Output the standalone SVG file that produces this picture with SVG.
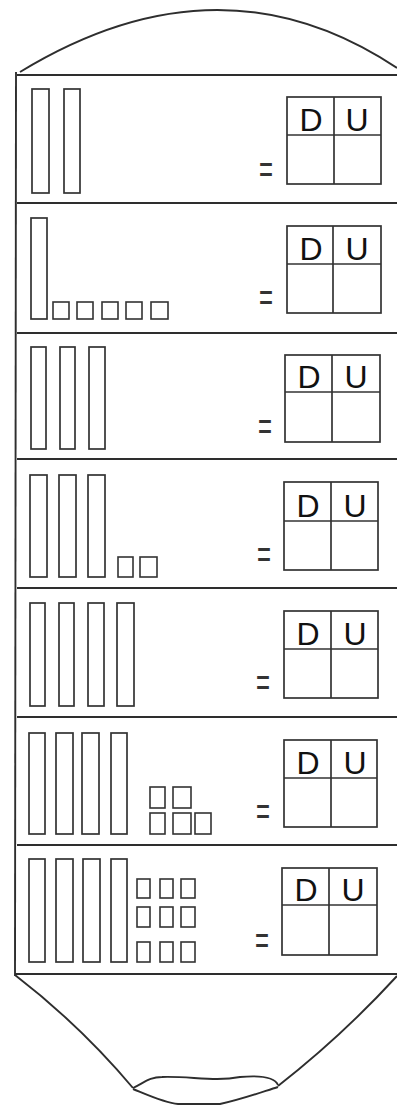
<svg xmlns="http://www.w3.org/2000/svg" width="397" height="1106" viewBox="0 0 397 1106">
<style>
.ln{fill:none;stroke:#333;stroke-width:1.7}
.fr{fill:none;stroke:#2e2e2e;stroke-width:1.9}
.rod{fill:#fff;stroke:#333;stroke-width:1.7}
.u{fill:#fff;stroke:#333;stroke-width:1.6}
.tb{fill:#fff;stroke:#333;stroke-width:1.7}
.lt{font-family:"Liberation Sans",Arial,sans-serif;font-size:32px;fill:#111;text-anchor:middle}
.eq{font-family:"Liberation Sans",Arial,sans-serif;font-size:40px;fill:#333;text-anchor:middle}
</style>
<rect width="397" height="1106" fill="#fff"/>
<g id="frame">
<path class="fr" d="M20,72 Q220,-50 397,68"/>
<line class="fr" x1="17" y1="75" x2="397" y2="75"/>
<line class="fr" x1="16" y1="72" x2="15" y2="976"/>
<line class="fr" x1="17" y1="203" x2="397" y2="203"/>
<line class="fr" x1="17" y1="333" x2="397" y2="333"/>
<line class="fr" x1="17" y1="459" x2="397" y2="459"/>
<line class="fr" x1="17" y1="588" x2="397" y2="588"/>
<line class="fr" x1="17" y1="717" x2="397" y2="717"/>
<line class="fr" x1="17" y1="845" x2="397" y2="845"/>
<line class="fr" x1="15" y1="974" x2="397" y2="974"/>
<path class="fr" d="M15,975 Q80,1025 133,1088"/>
<path class="fr" d="M397,976 Q342,1036 278,1086"/>
<path class="fr" d="M133,1088 C145,1082 150,1077 162,1077 C190,1076 215,1082 240,1077 C262,1075 275,1078 278,1085"/>
<path class="fr" d="M133,1089 C150,1096 165,1103 178,1104 L220,1104 C240,1100 262,1092 278,1087"/>
</g>
<g id="row1">
<rect class="rod" x="32" y="89" width="17" height="104"/>
<rect class="rod" x="64" y="89" width="16" height="104"/>
<text class="eq" x="266" y="183" textLength="14" lengthAdjust="spacingAndGlyphs">=</text>
<g><rect class="tb" x="287" y="97" width="94" height="87"/><line class="ln" x1="334" y1="97" x2="334" y2="184"/><line class="ln" x1="287" y1="135" x2="381" y2="135"/><text class="lt" x="311" y="131">D</text><text class="lt" x="357" y="131">U</text></g>
</g>
<g id="row2">
<rect class="rod" x="31" y="218" width="16" height="101"/>
<rect class="u" x="53" y="302" width="16" height="17"/>
<rect class="u" x="77" y="302" width="16" height="17"/>
<rect class="u" x="102" y="302" width="16" height="17"/>
<rect class="u" x="126" y="302" width="16" height="17"/>
<rect class="u" x="151" y="302" width="17" height="17"/>
<text class="eq" x="266" y="311" textLength="14" lengthAdjust="spacingAndGlyphs">=</text>
<g><rect class="tb" x="287" y="226" width="94" height="87"/><line class="ln" x1="333" y1="226" x2="333" y2="313"/><line class="ln" x1="287" y1="264" x2="381" y2="264"/><text class="lt" x="311" y="260">D</text><text class="lt" x="357" y="260">U</text></g>
</g>
<g id="row3">
<rect class="rod" x="31" y="347" width="15" height="102"/>
<rect class="rod" x="60" y="347" width="15" height="102"/>
<rect class="rod" x="89" y="347" width="16" height="102"/>
<text class="eq" x="265" y="440" textLength="14" lengthAdjust="spacingAndGlyphs">=</text>
<g><rect class="tb" x="285" y="355" width="95" height="87"/><line class="ln" x1="332" y1="355" x2="332" y2="442"/><line class="ln" x1="285" y1="392" x2="380" y2="392"/><text class="lt" x="309" y="388">D</text><text class="lt" x="356" y="388">U</text></g>
</g>
<g id="row4">
<rect class="rod" x="30" y="475" width="17" height="102"/>
<rect class="rod" x="59" y="475" width="17" height="102"/>
<rect class="rod" x="88" y="475" width="17" height="102"/>
<rect class="u" x="118" y="557" width="15" height="20"/>
<rect class="u" x="140" y="557" width="17" height="20"/>
<text class="eq" x="264" y="568" textLength="14" lengthAdjust="spacingAndGlyphs">=</text>
<g><rect class="tb" x="284" y="482" width="94" height="88"/><line class="ln" x1="331" y1="482" x2="331" y2="570"/><line class="ln" x1="284" y1="521" x2="378" y2="521"/><text class="lt" x="308" y="517">D</text><text class="lt" x="355" y="517">U</text></g>
</g>
<g id="row5">
<rect class="rod" x="30" y="603" width="15" height="103"/>
<rect class="rod" x="59" y="603" width="15" height="103"/>
<rect class="rod" x="88" y="603" width="16" height="103"/>
<rect class="rod" x="117" y="603" width="17" height="103"/>
<text class="eq" x="263" y="696" textLength="14" lengthAdjust="spacingAndGlyphs">=</text>
<g><rect class="tb" x="284" y="611" width="94" height="87"/><line class="ln" x1="331" y1="611" x2="331" y2="698"/><line class="ln" x1="284" y1="649" x2="378" y2="649"/><text class="lt" x="308" y="645">D</text><text class="lt" x="355" y="645">U</text></g>
</g>
<g id="row6">
<rect class="rod" x="29" y="733" width="16" height="101"/>
<rect class="rod" x="56" y="733" width="17" height="101"/>
<rect class="rod" x="82" y="733" width="17" height="101"/>
<rect class="rod" x="111" y="733" width="16" height="101"/>
<rect class="u" x="150" y="787" width="15" height="21"/>
<rect class="u" x="173" y="787" width="18" height="21"/>
<rect class="u" x="150" y="813" width="15" height="21"/>
<rect class="u" x="173" y="813" width="18" height="21"/>
<rect class="u" x="195" y="813" width="16" height="21"/>
<text class="eq" x="263" y="825" textLength="14" lengthAdjust="spacingAndGlyphs">=</text>
<g><rect class="tb" x="284" y="740" width="93" height="87"/><line class="ln" x1="331" y1="740" x2="331" y2="827"/><line class="ln" x1="284" y1="778" x2="377" y2="778"/><text class="lt" x="308" y="774">D</text><text class="lt" x="355" y="774">U</text></g>
</g>
<g id="row7">
<rect class="rod" x="29" y="859" width="16" height="103"/>
<rect class="rod" x="56" y="859" width="17" height="103"/>
<rect class="rod" x="83" y="859" width="17" height="103"/>
<rect class="rod" x="111" y="859" width="16" height="103"/>
<rect class="u" x="137" y="879" width="13" height="19"/>
<rect class="u" x="160" y="879" width="13" height="19"/>
<rect class="u" x="181" y="879" width="14" height="19"/>
<rect class="u" x="137" y="907" width="13" height="20"/>
<rect class="u" x="160" y="907" width="13" height="20"/>
<rect class="u" x="181" y="907" width="14" height="20"/>
<rect class="u" x="137" y="942" width="13" height="20"/>
<rect class="u" x="160" y="942" width="13" height="20"/>
<rect class="u" x="181" y="942" width="14" height="20"/>
<text class="eq" x="262" y="954" textLength="14" lengthAdjust="spacingAndGlyphs">=</text>
<g><rect class="tb" x="282" y="868" width="95" height="87"/><line class="ln" x1="329" y1="868" x2="329" y2="955"/><line class="ln" x1="282" y1="905" x2="377" y2="905"/><text class="lt" x="306" y="901">D</text><text class="lt" x="353" y="901">U</text></g>
</g>
</svg>
